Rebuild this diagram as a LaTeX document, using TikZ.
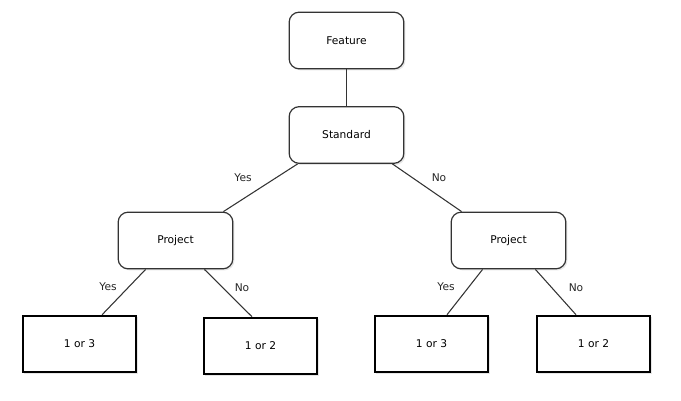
\documentclass[tikz,border=0pt]{standalone}
\usepackage{fontspec}
\setmainfont{DejaVu Sans}
\usetikzlibrary{calc, shadows}

\tikzset{
  decision/.style={draw=black!80, line width=0.9pt, rounded corners=7.5pt, fill=white,
    minimum width=86pt, minimum height=42.5pt, font=\fontsize{8}{10}\selectfont,
    drop shadow={opacity=0.2, shadow xshift=1.2pt, shadow yshift=-1.2pt}},
  leaf/.style={draw=black, line width=1.4pt, fill=white,
    minimum width=85pt, minimum height=42.5pt, font=\fontsize{8}{10}\selectfont,
    drop shadow={opacity=0.2, shadow xshift=1.2pt, shadow yshift=-1.2pt}},
  branch/.style={draw=black!80, line width=0.8pt},
  answer/.style={font=\fontsize{8}{10}\selectfont, text=black!85}
}

\begin{document}
\begin{tikzpicture}[x=0.75pt, y=-0.75pt]
        \useasboundingbox (0,0) rectangle (681,400);
        % questions
        \node[decision] (feat) at (346.5,40.5) {Feature};
        \node[decision] (std) at (346.5,135) {Standard};
        \node[decision] (pl) at (175.5,240.5) {Project};
        \node[decision] (pr) at (508.5,240.5) {Project};
        % answers
        \node[leaf] (ll) at (79.5,344) {1 or 3};
        \node[leaf] (lr) at (260.5,346) {1 or 2};
        \node[leaf] (rl) at (431.5,344) {1 or 3};
        \node[leaf] (rr) at (593.5,344) {1 or 2};
        % branches
        \draw[branch] (feat) -- (std);
        \draw[branch] ($(std.south west)+(9,0)$) -- ($(pl.north east)+(-10,0)$);
        \draw[branch] ($(std.south east)+(-12,0)$) -- ($(pr.north west)+(11,0)$);
        \draw[branch] ($(pl.south west)+(28,0)$) -- ($(ll.north east)+(-35,0)$);
        \draw[branch] ($(pl.south east)+(-29,0)$) -- ($(lr.north)+(-8.5,0)$);
        \draw[branch] ($(pr.south west)+(32,0)$) -- ($(rl.north)+(15.5,0)$);
        \draw[branch] ($(pr.south east)+(-31,0)$) -- ($(rr.north)+(-17.5,0)$);
        % labels
        \node[answer] (y1) at (243,178) {Yes};
        \node[answer] (n1) at (439,178) {No};
        \node[answer] (y2) at (108,287) {Yes};
        \node[answer] (n2) at (242,288) {No};
        \node[answer] (y3) at (446,287) {Yes};
        \node[answer] (n3) at (576,288) {No};
    \end{tikzpicture}
\end{document}
